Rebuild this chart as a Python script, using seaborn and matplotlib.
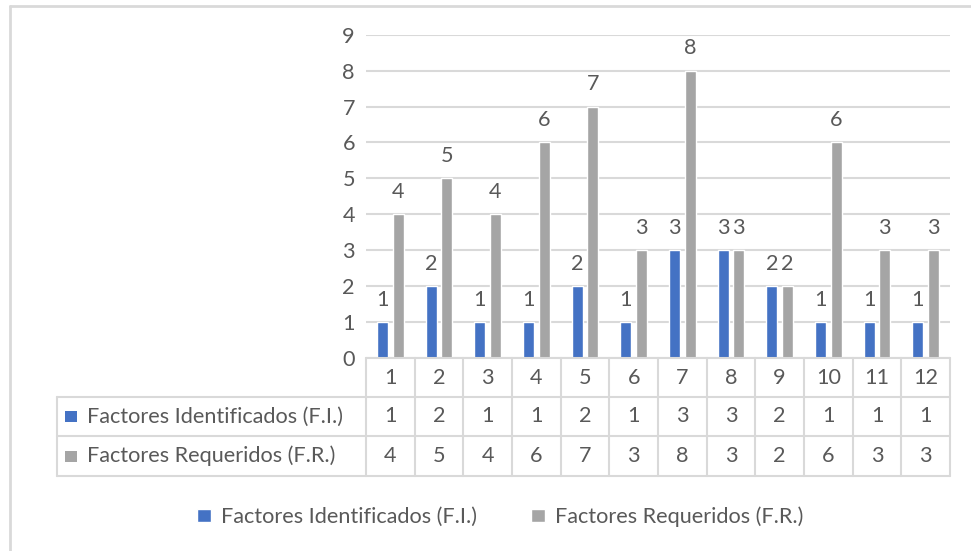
import matplotlib
matplotlib.use("Agg")
import matplotlib.pyplot as plt
import seaborn as sns
import pandas as pd
from matplotlib.transforms import blended_transform_factory
from matplotlib.patches import Rectangle
from matplotlib.lines import Line2D

# ---- data ----
categories = ["1", "2", "3", "4", "5", "6", "7", "8", "9", "10", "11", "12"]
series_names = ["Factores Identificados (F.I.)", "Factores Requeridos (F.R.)"]
identificados = [1, 2, 1, 1, 2, 1, 3, 3, 2, 1, 1, 1]
requeridos = [4, 5, 4, 6, 7, 3, 8, 3, 2, 6, 3, 3]
y_ticks = [0, 1, 2, 3, 4, 5, 6, 7, 8, 9]

colors = ["#4472C4", "#A5A5A5"]
text_color = "#595959"
line_color = "#D9D9D9"

df = pd.DataFrame({
    "cat": categories * 2,
    "serie": [series_names[0]] * len(categories) + [series_names[1]] * len(categories),
    "valor": identificados + requeridos,
})

sns.set_theme(style="white")
plt.rcParams["font.family"] = ["Lato", "DejaVu Sans"]
FS = 15.6

W, H = 971, 551
fig = plt.figure(figsize=(W / 100, H / 100), dpi=100)
ax = fig.add_axes([366 / W, 1 - 358 / H, (950 - 366) / W, (358 - 34.7) / H])

sns.barplot(data=df, x="cat", y="valor", hue="serie", order=categories,
            hue_order=series_names, palette=colors, width=0.64, gap=0.3,
            saturation=1, ax=ax, legend=True)

ax.set_xlim(-0.5, len(categories) - 0.5)
ax.set_ylim(0, 9)
ax.set_yticks(y_ticks)
ax.set_yticklabels([str(t) for t in y_ticks], fontsize=FS, color=text_color)
ax.tick_params(axis="y", length=0, pad=8)
ax.set_xticks([])
ax.set_xlabel("")
ax.set_ylabel("")
for s in ax.spines.values():
    s.set_visible(False)
ax.grid(axis="y", color=line_color, linewidth=1.5)
ax.set_axisbelow(True)

# value labels above each bar
for cont in ax.containers:
    ax.bar_label(cont, fmt="%g", padding=9, fontsize=FS, color=text_color)

# legend under the chart
sns.move_legend(ax, "center", bbox_to_anchor=(0.515, 0.062),
                bbox_transform=fig.transFigure, ncol=2, frameon=False,
                title=None, fontsize=FS, handlelength=0.65, handleheight=0.6,
                handletextpad=0.45, columnspacing=2.5)
for t in ax.get_legend().get_texts():
    t.set_color(text_color)

# ---- data table below the axis ----
tr = blended_transform_factory(ax.transData, fig.transFigure)
def fy(px):
    return 1 - px / H
def fx(px):
    return px / W

row_edges = [358, 397, 436, 476]
n = len(categories)
lw = 1.5
# vertical cell borders along category boundaries
for i in range(n + 1):
    fig.add_artist(Line2D([i - 0.5, i - 0.5], [fy(row_edges[0]), fy(row_edges[-1])],
                          transform=tr, color=line_color, lw=lw))
# header row top
fig.add_artist(Line2D([-0.5, n - 0.5], [fy(row_edges[0])] * 2, transform=tr,
                      color=line_color, lw=lw))
# rows spanning the series-name column too
x_left = ax.transData.inverted().transform(fig.transFigure.transform((fx(57), 0)))[0]
for yy in row_edges[1:]:
    fig.add_artist(Line2D([x_left, n - 0.5], [fy(yy)] * 2, transform=tr,
                          color=line_color, lw=lw))
fig.add_artist(Line2D([x_left, x_left], [fy(row_edges[1]), fy(row_edges[-1])],
                      transform=tr, color=line_color, lw=lw))

# header row (category labels)
for i, c in enumerate(categories):
    fig.text(i, fy((row_edges[0] + row_edges[1]) / 2), c, transform=tr,
             ha="center", va="center", fontsize=FS, color=text_color)
# series rows
for r, (name, vals, col) in enumerate(zip(series_names, [identificados, requeridos], colors)):
    yc = (row_edges[r + 1] + row_edges[r + 2]) / 2
    for i, v in enumerate(vals):
        fig.text(i, fy(yc), str(v), transform=tr, ha="center", va="center",
                 fontsize=FS, color=text_color)
    fig.add_artist(Rectangle((fx(65), fy(yc + 5.5)), 12 / W, 11 / H,
                             transform=fig.transFigure, color=col, lw=0))
    fig.text(fx(87), fy(yc), name, ha="left", va="center", fontsize=FS,
             color=text_color)

# chart frame (top and left edges)
fig.add_artist(Line2D([fx(9.5), 1], [fy(5.5)] * 2, transform=fig.transFigure,
                      color=line_color, lw=2))
fig.add_artist(Line2D([fx(9.5)] * 2, [fy(5.5), 0], transform=fig.transFigure,
                      color=line_color, lw=2))

fig.savefig("out.png", dpi=100)
